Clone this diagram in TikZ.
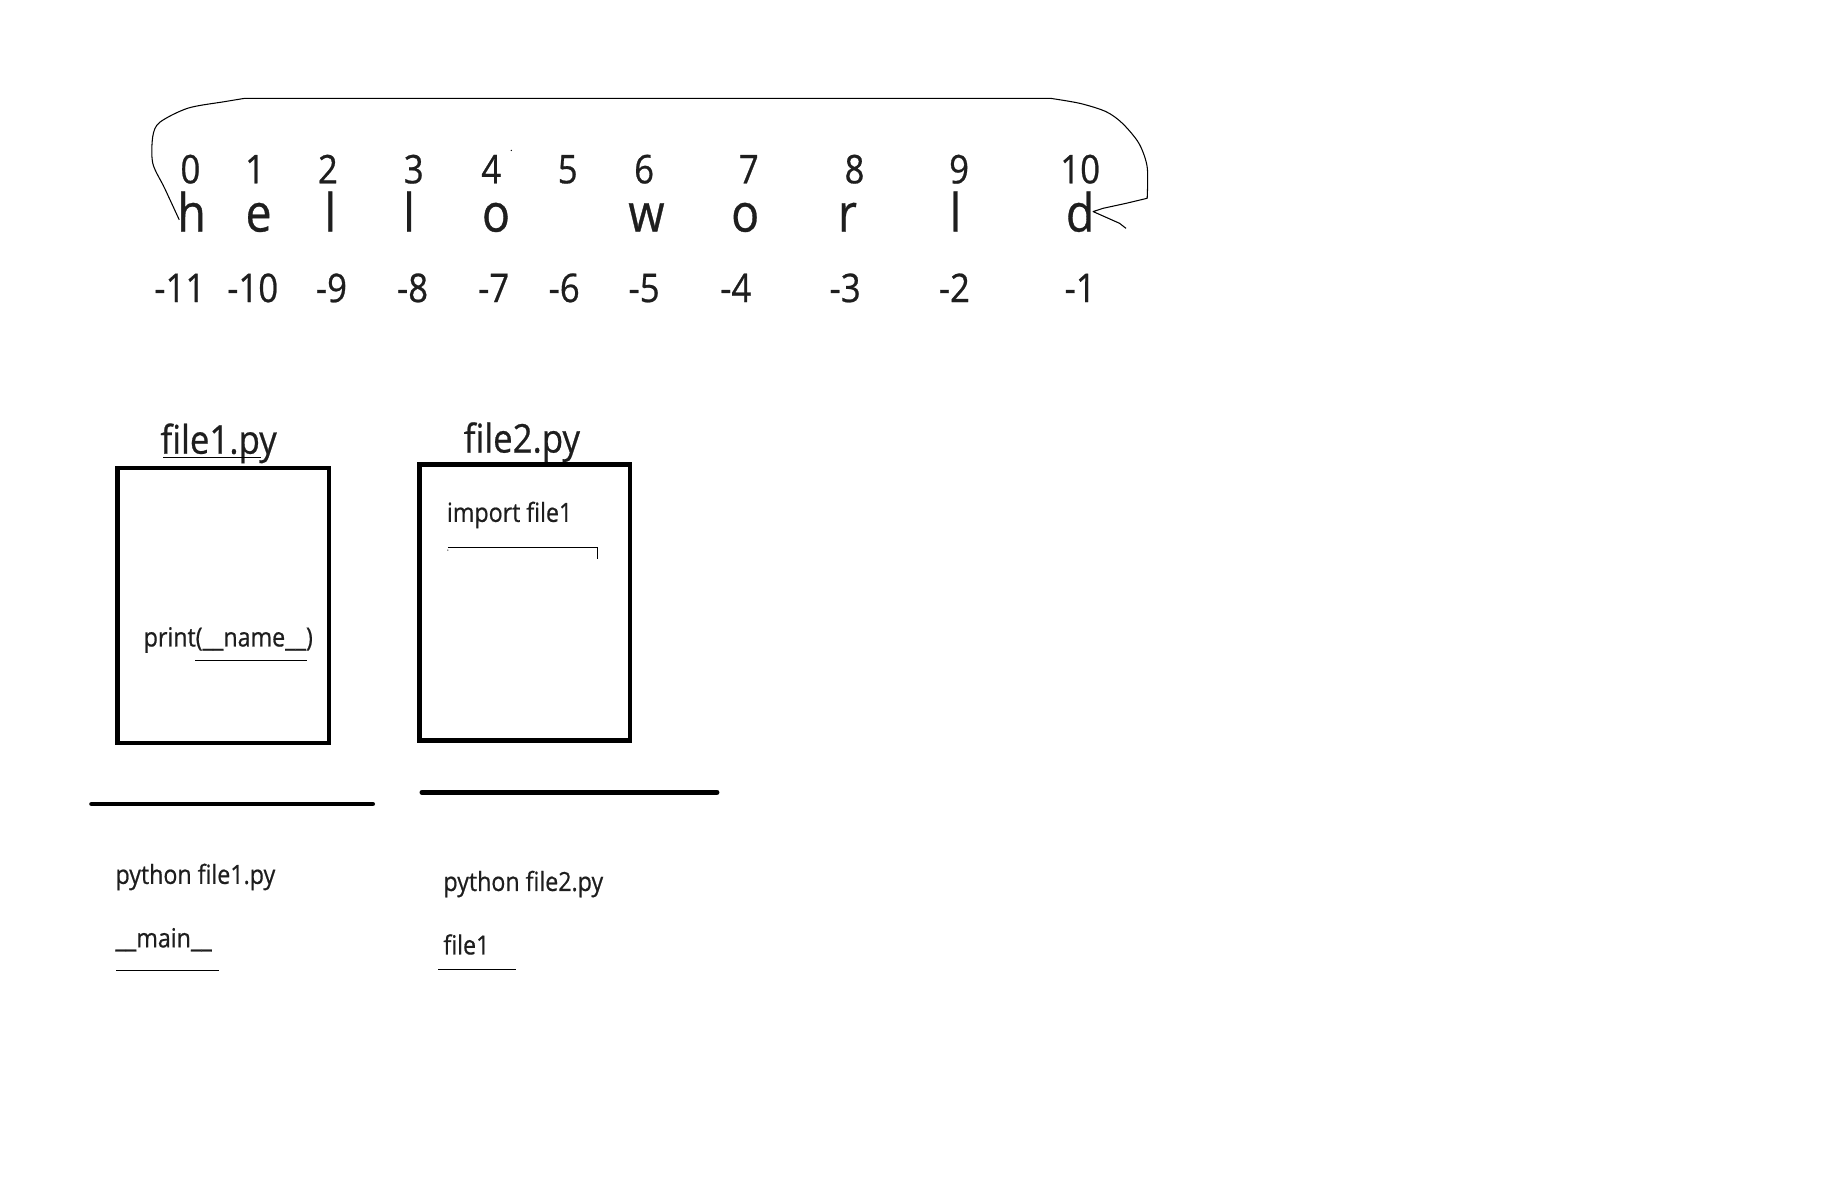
\documentclass[tikz,border=0pt]{standalone}
\usepackage{fontspec}
\setmainfont{Open Sans}[FakeStretch=0.88, FakeBold=0.6]
\begin{document}
\begin{tikzpicture}[x=0.0235cm,y=-0.0235cm,
  idx/.style={font=\fontsize{22.5}{26}\selectfont, text=ink, inner sep=0, anchor=base},
  chr/.style={font=\fontsize{30}{36}\selectfont, text=ink, inner sep=0, anchor=base},
  ttl/.style={font=\fontsize{22.5}{28}\selectfont, text=ink, inner sep=0, anchor=base},
  code/.style={font=\fontsize{15}{18}\selectfont, text=ink, inner sep=0, anchor=base west},
  filebox/.style={draw=black, line width=2.6pt},
  rule/.style={line width=2.8pt, line cap=round},
  thinline/.style={line width=0.6pt}]
\definecolor{ink}{HTML}{1E1E1E}
\path[use as bounding box, fill=white] (0,0) rectangle (1568,1007);

% positive indices
\foreach \x/\t [count=\i from 0] in {162/0,217/1,279/2,352/3,418/4,483/5,548/6,637/7,727/8,816/9,919/10}
  \node[idx] (p\i) at (\x,156) {\t};
% characters
\foreach \x/\t [count=\i from 0] in {163/h,220/e,281/l,348/l,422/o,550/w,634/o,721/r,813/l,919/d}
  \node[chr] (c\i) at (\x,197) {\t};
% negative indices
\foreach \x/\t [count=\i from 0] in {153/-11,215/-10,282/-9,351/-8,420/-7,480/-6,548/-5,626/-4,719/-3,812/-2,919/-1}
  \node[idx] (n\i) at (\x,257) {\t};

% stray dot
\fill[black] (435,128) circle (0.6);

% loop arrow from h to d
\coordinate (loopstart) at (152.5,187);
\coordinate (looptip) at (930,180);
\draw[thinline, line join=round] plot[smooth, tension=0.5] coordinates {
  (loopstart) (140,160) (130,139) (130,116) (136,104) (160,92) (191,86.5) (208,83.7)}
  -- (894,83.7)
  plot[smooth, tension=0.5] coordinates {(894,83.7) (919,88) (941,95) (955,105) (969,122) (976,142) (976,168.7)}
  -- (958,173) -- (938.6,177.2) -- (looptip) -- (952.5,190) -- (958,194.3);

% file1.py
\node[ttl] (t1) at (186,386) {file1.py};
\draw[thinline] (139,389.5) -- (222,389.5);
\draw[filebox] (100,398) rectangle (280,632);
\node[code] (pr) at (122,550) {print(\_\_name\_\_)};
\draw[thinline] (166,562) -- (261,562);

% file2.py
\node[ttl] (t2) at (444,385) {file2.py};
\draw[filebox] (357,395) rectangle (536,630);
\node[code] (im) at (380,444) {import file1};
\draw[thinline] (381,466) -- (508,466) -- (508,476);
\fill (381,468) circle (0.5);

% separators
\draw[rule] (78,684) -- (317,684);
\draw[rule] (359,674) -- (610,674);

% outputs
\node[code] (run1) at (98,752) {python file1.py};
\node[code] (out1) at (98,806) {\_\_main\_\_};
\draw[thinline] (99,826) -- (186,826);
\node[code] (run2) at (377,758) {python file2.py};
\node[code] (out2) at (377,812) {file1};
\draw[thinline] (373,825) -- (439,825);
\end{tikzpicture}
\end{document}
